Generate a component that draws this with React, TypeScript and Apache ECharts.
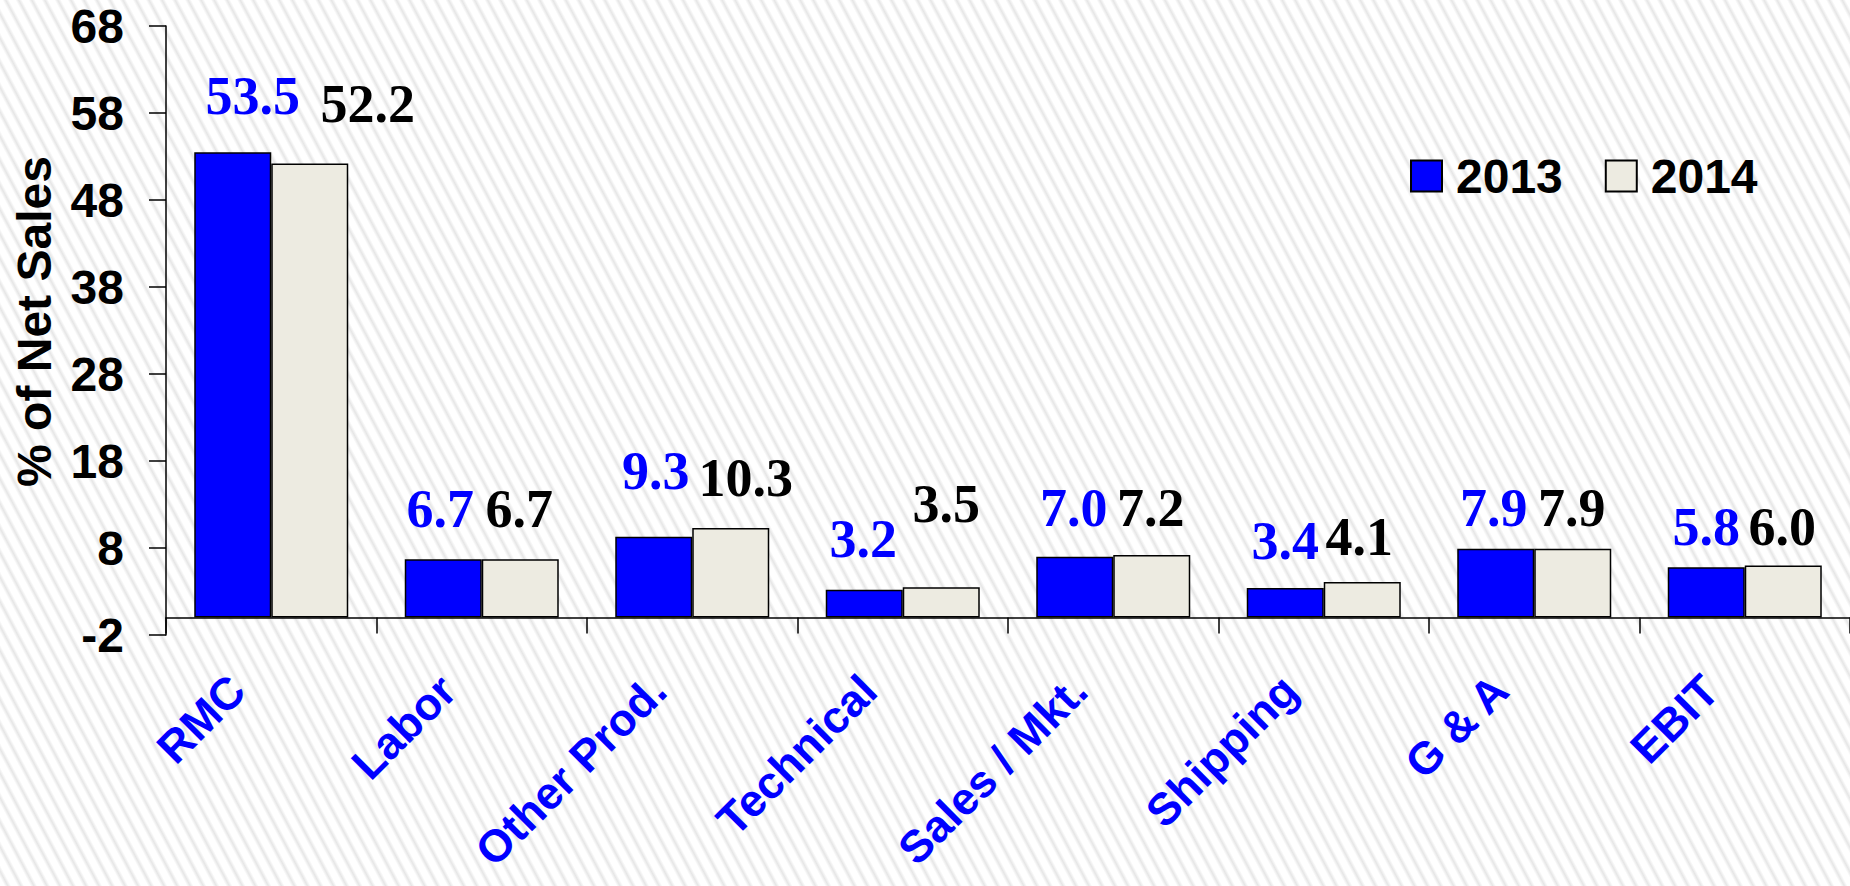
import React, { useEffect, useRef } from "react";
import * as echarts from "echarts";

const categories = ["RMC", "Labor", "Other Prod.", "Technical", "Sales / Mkt.", "Shipping", "G & A", "EBIT"];
const values2013 = [53.5, 6.7, 9.3, 3.2, 7.0, 3.4, 7.9, 5.8];
const values2014 = [52.2, 6.7, 10.3, 3.5, 7.2, 4.1, 7.9, 6.0];
const seriesNames = ["2013", "2014"];
const yMin = -2;
const yMax = 68;
const yStep = 10;

// hand-placed label nudges (px), mimicking the original's manually positioned labels
const labelNudge2013 = [[20, -29], [-3, -23], [2, -39], [-1, -24], [-1, -22], [0, -20], [-2, -14], [0, -13]];
const labelNudge2014 = [[58, -32], [-1, -23], [15, -23], [5, -56], [-1, -20], [-3, -18], [-1, -14], [-1, -11]];

const SANS = '"Liberation Sans", Arial, Helvetica, sans-serif';
const SERIF = '"Liberation Serif", "Times New Roman", Times, serif';

export default function App() {
  const ref = useRef<HTMLDivElement>(null);

  useEffect(() => {
    if (!ref.current) return;
    const chart = echarts.init(ref.current, undefined, { renderer: "svg" });
    const labelBase = {
      show: true,
      position: "top" as const,
      distance: 0,
      fontFamily: SERIF,
      fontWeight: "bold" as const,
      fontSize: 54,
      lineHeight: 54,
      formatter: (p: any) => Number(p.value).toFixed(1),
    };
    chart.setOption({
      animation: false,
      backgroundColor: "transparent",
      grid: { left: 166, right: 0, top: 26, bottom: 251, containLabel: false, outerBoundsMode: "none" },
      legend: {
        data: seriesNames,
        left: 1405,
        top: 147,
        icon: "rect",
        itemWidth: 31,
        itemHeight: 31,
        itemGap: 42,
        textStyle: { fontFamily: SANS, fontWeight: "bold", fontSize: 48, color: "#000", padding: [0, 0, 0, 9] },
      },
      xAxis: {
        type: "category",
        data: categories,
        axisLine: { show: true, onZero: true, lineStyle: { color: "#000", width: 1.5 } },
        axisTick: { show: true, length: 16, lineStyle: { color: "#000", width: 1.5 } },
        axisLabel: {
          interval: 0,
          rotate: 45,
          margin: 14,
          padding: [0, 48, 0, 0],
          color: "#0000FF",
          fontFamily: SANS,
          fontWeight: "bold",
          fontSize: 45,
        },
        splitLine: { show: false },
      },
      yAxis: {
        type: "value",
        min: yMin,
        max: yMax,
        interval: yStep,
        name: "% of Net Sales",
        nameLocation: "middle",
        nameGap: 108,
        nameTextStyle: { fontFamily: SANS, fontWeight: "bold", fontSize: 48, color: "#000", padding: [0, 0, 0, 18] },
        axisLine: { show: true, lineStyle: { color: "#000", width: 1.5 } },
        axisTick: { show: true, length: 17, lineStyle: { color: "#000", width: 1.5 } },
        axisLabel: { margin: 42, fontFamily: SANS, fontWeight: "bold", fontSize: 48, color: "#000" },
        splitLine: { show: false },
      },
      series: [
        {
          type: "bar",
          name: seriesNames[0],
          data: values2013.map((v, i) => ({ value: v, label: { offset: labelNudge2013[i] } })),
          barWidth: 77,
          barGap: "0%",
          itemStyle: { color: "#0000FF", borderColor: "#000", borderWidth: 1.5 },
          label: { ...labelBase, color: "#0000FF" },
        },
        {
          type: "bar",
          name: seriesNames[1],
          data: values2014.map((v, i) => ({ value: v, label: { offset: labelNudge2014[i] } })),
          barWidth: 77,
          barGap: "0%",
          itemStyle: { color: "#EDEBE1", borderColor: "#000", borderWidth: 1.5 },
          label: { ...labelBase, color: "#000" },
        },
      ],
    });
    return () => chart.dispose();
  }, []);

  return (
    <div
      style={{
        position: "absolute",
        left: 0,
        top: 0,
        width: 1850,
        height: 886,
        background:
          "repeating-linear-gradient(62deg, #ffffff 0px, #ffffff 4px, #e6e6e6 7px, #ffffff 10px, #ffffff 11.5px)",
      }}
    >
      <div ref={ref} style={{ width: 1850, height: 886 }} />
    </div>
  );
}
